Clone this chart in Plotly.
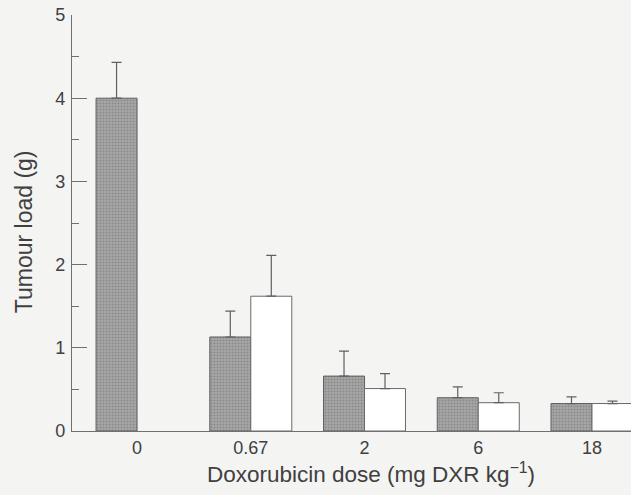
import plotly.graph_objects as go

categories = ["0", "0.67", "2", "6", "18"]
dark_vals = [4.0, 1.13, 0.66, 0.40, 0.33]
dark_err = [0.43, 0.31, 0.30, 0.13, 0.08]
white_vals = [None, 1.62, 0.51, 0.34, 0.33]
white_err = [None, 0.49, 0.18, 0.12, 0.03]

bg = "#f4f4f3"
axis_col = "#707070"
text_col = "#404040"
font_fam = "Liberation Sans, Arial, sans-serif"

fig = go.Figure()
fig.add_trace(go.Bar(
    x=categories, y=dark_vals, name="dark",
    marker=dict(color="#9c9c9c", line=dict(color="#606060", width=1),
                pattern=dict(shape=".", fgcolor="#8a8a8a", bgcolor="#a8a8a8",
                             size=3, solidity=0.4, fillmode="replace")),
    error_y=dict(type="data", symmetric=False, array=dark_err,
                 arrayminus=[0] * len(dark_err), color="#606060",
                 thickness=1.2, width=5),
))
fig.add_trace(go.Bar(
    x=categories, y=white_vals, name="white",
    marker=dict(color="#ffffff", line=dict(color="#6a6a6a", width=1)),
    error_y=dict(type="data", symmetric=False, array=white_err,
                 arrayminus=[0] * len(white_err), color="#606060",
                 thickness=1.2, width=5),
))

fig.update_layout(
    width=631, height=495,
    margin=dict(l=72, r=0, t=15, b=64),
    paper_bgcolor=bg, plot_bgcolor=bg,
    barmode="group", bargap=0.279, bargroupgap=0,
    showlegend=False,
    font=dict(family=font_fam, color=text_col, size=18),
    xaxis=dict(
        type="category", range=[-0.572, 4.343],
        showline=True, linecolor=axis_col, linewidth=1.2,
        ticks="", showgrid=False, zeroline=False,
        tickfont=dict(size=18, color=text_col),
        ticklabelstandoff=0,
    ),
    yaxis=dict(
        range=[0, 5], tickvals=[0, 1, 2, 3, 4, 5],
        showline=True, linecolor=axis_col, linewidth=1.2,
        ticks="inside", ticklen=15, tickcolor=axis_col, tickwidth=1.2,
        minor=dict(dtick=0.5, ticks="inside", ticklen=7,
                   tickcolor=axis_col, tickwidth=1.2, showgrid=False),
        showgrid=False, zeroline=False,
        tickfont=dict(size=18, color=text_col),
        ticklabelstandoff=2,
    ),
    annotations=[
        dict(text="Doxorubicin dose (mg DXR kg<sup>\u22121</sup>)",
             xref="paper", yref="paper", x=0.534, y=-0.102,
             xanchor="center", yanchor="middle", showarrow=False,
             font=dict(size=22.5, color=text_col, family=font_fam)),
        dict(text="Tumour load (g)", textangle=-90,
             xref="paper", yref="paper", x=-0.086, y=0.48,
             xanchor="center", yanchor="middle", showarrow=False,
             font=dict(size=23, color=text_col, family=font_fam)),
    ],
)

fig.write_html(
    "out.html",
    config={"displayModeBar": False},
    post_script="document.body.style.margin='0';"
                "document.body.style.background='#f4f4f3';",
)
